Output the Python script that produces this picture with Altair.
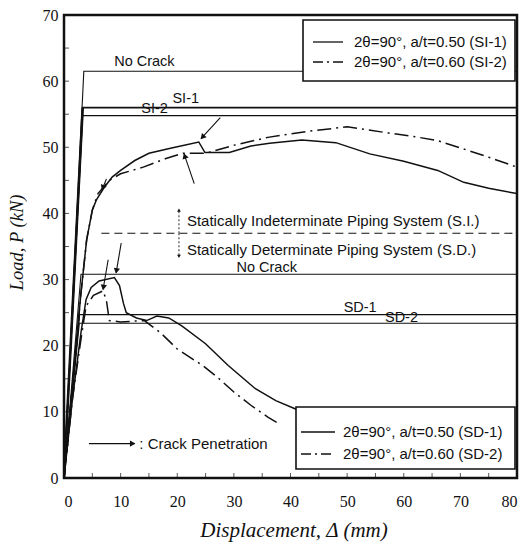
import altair as alt
import pandas as pd
import numpy as np

# ---------------- data ----------------
# Statically indeterminate system (SI)
si1_x = [0, 1.5, 3, 4, 5, 5.7, 7, 8.5, 10, 12.5, 15, 19, 23.8, 24.9, 29.2, 33, 36.3, 42, 48, 54, 60, 66, 70.6, 75, 80]
si1_y = [0, 14, 28, 36, 40.5, 42, 43.8, 45.5, 46.5, 48, 49.1, 49.9, 50.8, 49.2, 49.2, 50.2, 50.6, 51.1, 50.7, 49.0, 47.9, 46.5, 44.7, 43.8, 43.0]
si2_x = [0, 1.5, 3, 4, 5, 6, 8, 10, 14, 18, 21, 25, 30, 36, 43, 50, 57, 62, 66, 70, 75, 80]
si2_y = [0, 14, 28, 36, 40.5, 43, 45, 46.0, 47, 48.3, 49.1, 49.1, 50.3, 51.5, 52.4, 53.1, 52.2, 51.6, 51.0, 49.9, 48.5, 47.0]
# Statically determinate system (SD)
sd1_x = [0, 1.5, 3, 3.9, 4.8, 6.2, 8.9, 9.8, 10.5, 11, 12.8, 14.6, 16.4, 18.5, 20.8, 25, 29, 33.8, 37.4, 41, 44]
sd1_y = [0, 12, 22, 27, 28.8, 29.8, 30.3, 29.1, 26.4, 25, 24.2, 23.8, 24.5, 24.2, 23, 20.3, 17, 13.5, 11.7, 10.4, 9.0]
sd2_x = [0, 1.5, 3, 3.9, 5.2, 6.9, 7.5, 8, 10, 14.2, 17, 20, 24.5, 27, 30, 33, 36, 38]
sd2_y = [0, 12, 21, 26, 27.6, 28.3, 26.8, 23.8, 23.6, 23.8, 22, 19.5, 17, 15.3, 13, 11, 9.2, 8.2]

# limit-load lines: (x, y) polylines from origin
si_nocrack_x, si_nocrack_y = [0, 3.5, 80], [0, 61.5, 61.5]
si1_lim_x, si1_lim_y = [0, 3.3, 80], [0, 56.0, 56.0]
si2_lim_x, si2_lim_y = [0, 3.3, 80], [0, 54.8, 54.8]
sd_nocrack_x, sd_nocrack_y = [0, 3.0, 80], [0, 30.8, 30.8]
sd1_lim_x, sd1_lim_y = [0, 2.7, 80], [0, 24.7, 24.7]
sd2_lim_x, sd2_lim_y = [0, 2.7, 80], [0, 23.4, 23.4]

boundary_y = 37.0
boundary_x = [6.6, 80]

# crack penetration arrows: start -> end
arr_x0 = [27.6, 23.0, 7.5, 10.1, 7.8, 4.4]
arr_y0 = [54.5, 44.5, 45.2, 35.5, 33.0, 5.2]
arr_x1 = [24.2, 21.2, 6.7, 9.2, 6.9, 12.5]
arr_y1 = [51.3, 49.0, 43.6, 31.0, 28.5, 5.2]

# SI / SD divider arrows
div_x = 20.3
div_y_up = 40.4
div_y_down = 33.6

# text labels
lbl_text = ["No Crack", "SI-1", "SI-2", "No Crack", "SD-1", "SD-2"]
lbl_x = [14.2, 21.5, 16.0, 35.8, 52.3, 59.6]
lbl_y = [61.8, 56.3, 54.8, 30.7, 24.6, 23.2]

note_text = ["Statically Indeterminate Piping System (S.I.)",
             "Statically Determinate Piping System (S.D.)",
             ": Crack Penetration"]
note_x = [21.7, 21.7, 13.3]
note_y = [38.9, 34.5, 5.2]

legend_si = ["2\u03b8=90\u00b0, a/t=0.50 (SI-1)", "2\u03b8=90\u00b0, a/t=0.60 (SI-2)"]
legend_sd = ["2\u03b8=90\u00b0, a/t=0.50 (SD-1)", "2\u03b8=90\u00b0, a/t=0.60 (SD-2)"]

x_ticks = list(range(0, 81, 5))
y_ticks = list(range(0, 71, 5))
x_labels = list(range(0, 81, 10))
y_labels = list(range(0, 71, 10))

# ---------------- chart ----------------
W, H = 453, 463
INK = "#111111"
SERIF = "Liberation Serif"
SANS = "Liberation Sans"
DASHDOT = [14, 5, 2, 5]

xs = alt.Scale(domain=[0, 80], nice=False, zero=False)
ys = alt.Scale(domain=[0, 70], nice=False, zero=False)


def line_layer(xv, yv, dash=None, width=1.4):
    df = pd.DataFrame({"x": xv, "y": yv, "o": list(range(len(xv)))})
    kw = dict(color=INK, strokeWidth=width, clip=True)
    if dash:
        kw["strokeDash"] = dash
    return alt.Chart(df).mark_line(**kw).encode(
        x=alt.X("x:Q", scale=xs, axis=None),
        y=alt.Y("y:Q", scale=ys, axis=None),
        order="o:Q",
    )


# axes layer (labels + titles); inward tick marks drawn as tick marks
xt = pd.DataFrame({"x": x_ticks})
yt = pd.DataFrame({"y": y_ticks})

x_axis_layer = alt.Chart(xt).mark_tick(color=INK, size=5, thickness=1).encode(
    x=alt.X("x:Q", scale=xs, axis=alt.Axis(
        values=x_labels, ticks=False, tickSize=0, domain=False, grid=False,
        labelFont=SERIF, labelFontSize=16, labelColor=INK, labelPadding=15,
        title="Displacement, \u0394 (mm)", titleFont=SERIF, titleFontSize=21,
        titleFontStyle="italic", titleFontWeight="normal", titleColor=INK,
        titleX=W / 2 + 3, titleY=58, titleBaseline="alphabetic", titleAlign="center")),
    y=alt.value(H - 2.5),
)
y_axis_layer = alt.Chart(yt).mark_tick(color=INK, size=5, thickness=1, orient="horizontal").encode(
    y=alt.Y("y:Q", scale=ys, axis=alt.Axis(
        values=y_labels, ticks=False, tickSize=0, domain=False, grid=False,
        labelFont=SERIF, labelFontSize=16, labelColor=INK, labelPadding=6,
        title="Load, P (kN)", titleFont=SERIF, titleFontSize=18.5,
        titleFontStyle="italic", titleFontWeight="normal", titleColor=INK,
        titleX=-42, titleY=227, titleBaseline="alphabetic", titleAlign="center")),
    x=alt.value(2.5),
)

layers = [x_axis_layer, y_axis_layer]

# limit lines
layers += [
    line_layer(si_nocrack_x, si_nocrack_y, width=1.1),
    line_layer(si1_lim_x, si1_lim_y, width=1.6),
    line_layer(si2_lim_x, si2_lim_y, width=1.2),
    line_layer(sd_nocrack_x, sd_nocrack_y, width=1.1),
    line_layer(sd1_lim_x, sd1_lim_y, width=1.3),
    line_layer(sd2_lim_x, sd2_lim_y, width=1.2),
]
# thick rising parts from origin
layers += [
    line_layer(si1_lim_x[:2], si1_lim_y[:2], width=2.6),
    line_layer(sd1_lim_x[:2], sd1_lim_y[:2], width=1.6),
]

# boundary dashed line
bdf = pd.DataFrame({"x": [boundary_x[0]], "x2": [boundary_x[1]], "y": [boundary_y]})
layers.append(alt.Chart(bdf).mark_rule(color=INK, strokeWidth=1.1, strokeDash=[8, 5]).encode(
    x=alt.X("x:Q", scale=xs, axis=None), x2="x2:Q", y=alt.Y("y:Q", scale=ys, axis=None)))

# curves
layers += [
    line_layer(si1_x, si1_y, width=1.5),
    line_layer(si2_x, si2_y, dash=DASHDOT, width=1.5),
    line_layer(sd1_x, sd1_y, width=1.5),
    line_layer(sd2_x, sd2_y, dash=DASHDOT, width=1.5),
]

# arrows
adf = pd.DataFrame({"x0": arr_x0, "y0": arr_y0, "x1": arr_x1, "y1": arr_y1})
dxp = (adf.x1 - adf.x0) * W / 80
dyp = -(adf.y1 - adf.y0) * H / 70
adf["ang"] = np.mod(np.degrees(np.arctan2(dxp, -dyp)), 360)
L = np.hypot(dxp, dyp)
adf["hx"] = adf.x1 - (dxp / L) * 3 * 80 / W
adf["hy"] = adf.y1 + (dyp / L) * 3 * 70 / H
layers.append(alt.Chart(adf).mark_rule(color=INK, strokeWidth=1.1).encode(
    x=alt.X("x0:Q", scale=xs, axis=None), y=alt.Y("y0:Q", scale=ys, axis=None), x2="x1:Q", y2="y1:Q"))
layers.append(alt.Chart(adf).mark_point(shape="triangle", filled=True, color=INK, size=40, opacity=1).encode(
    x=alt.X("hx:Q", scale=xs, axis=None), y=alt.Y("hy:Q", scale=ys, axis=None),
    angle=alt.Angle("ang:Q", scale=None)))

# divider arrows (dashed)
ddf = pd.DataFrame({"x": [div_x, div_x], "y": [boundary_y, boundary_y],
                    "y2": [div_y_up, div_y_down], "ang": [0, 180]})
layers.append(alt.Chart(ddf).mark_rule(color=INK, strokeWidth=0.9, strokeDash=[2, 2]).encode(
    x=alt.X("x:Q", scale=xs, axis=None), y=alt.Y("y:Q", scale=ys, axis=None), y2="y2:Q"))
layers.append(alt.Chart(ddf).mark_point(shape="triangle", filled=True, color=INK, size=14, opacity=1).encode(
    x=alt.X("x:Q", scale=xs, axis=None), y=alt.Y("y2:Q", scale=ys, axis=None),
    angle=alt.Angle("ang:Q", scale=None)))

# labels on lines
ldf = pd.DataFrame({"t": lbl_text, "x": lbl_x, "y": lbl_y})
layers.append(alt.Chart(ldf).mark_text(font=SANS, fontSize=14.5, color=INK, align="center", baseline="bottom").encode(
    x=alt.X("x:Q", scale=xs, axis=None), y=alt.Y("y:Q", scale=ys, axis=None), text="t:N"))

ndf = pd.DataFrame({"t": note_text, "x": note_x, "y": note_y})
layers.append(alt.Chart(ndf).mark_text(font=SANS, fontSize=15, color=INK, align="left", baseline="middle").encode(
    x=alt.X("x:Q", scale=xs, axis=None), y=alt.Y("y:Q", scale=ys, axis=None), text="t:N"))

# manual legend boxes
one = pd.DataFrame({"a": [0]})


def legend_box(x0, x1, y0, y1, labels, rows, sx0, sx1, tx):
    out = [alt.Chart(one).mark_rect(fill="white", stroke=INK, strokeWidth=1.6).encode(
        x=alt.value(x0), x2=alt.value(x1), y=alt.value(y0), y2=alt.value(y1))]
    for i, (lab, ry) in enumerate(zip(labels, rows)):
        kw = dict(color=INK, strokeWidth=1.3)
        if i == 1:
            kw["strokeDash"] = [10, 4, 2, 4]
        out.append(alt.Chart(one).mark_rule(**kw).encode(
            x=alt.value(sx0), x2=alt.value(sx1), y=alt.value(ry)))
        out.append(alt.Chart(pd.DataFrame({"t": [lab]})).mark_text(
            font=SANS, fontSize=15, color=INK, align="left", baseline="middle").encode(
            x=alt.value(tx), y=alt.value(ry), text="t:N"))
    return out


layers += legend_box(239, 451, 5, 66, legend_si, [27, 47], 249, 279, 290)
layers += legend_box(232, 451, 392, 454, legend_sd, [417, 439], 237, 271, 279)

chart = alt.layer(*layers).resolve_scale(
    x="independent", y="independent"
).resolve_axis(
    x="independent", y="independent"
).properties(
    width=W, height=H,
    autosize=alt.AutoSizeParams(type="none"),
    padding={"left": 64, "top": 15, "right": 11, "bottom": 71},
    background="white",
).configure_view(stroke=INK, strokeWidth=2.5)

chart.save("out.html", embed_options={"renderer": "svg", "actions": False})
